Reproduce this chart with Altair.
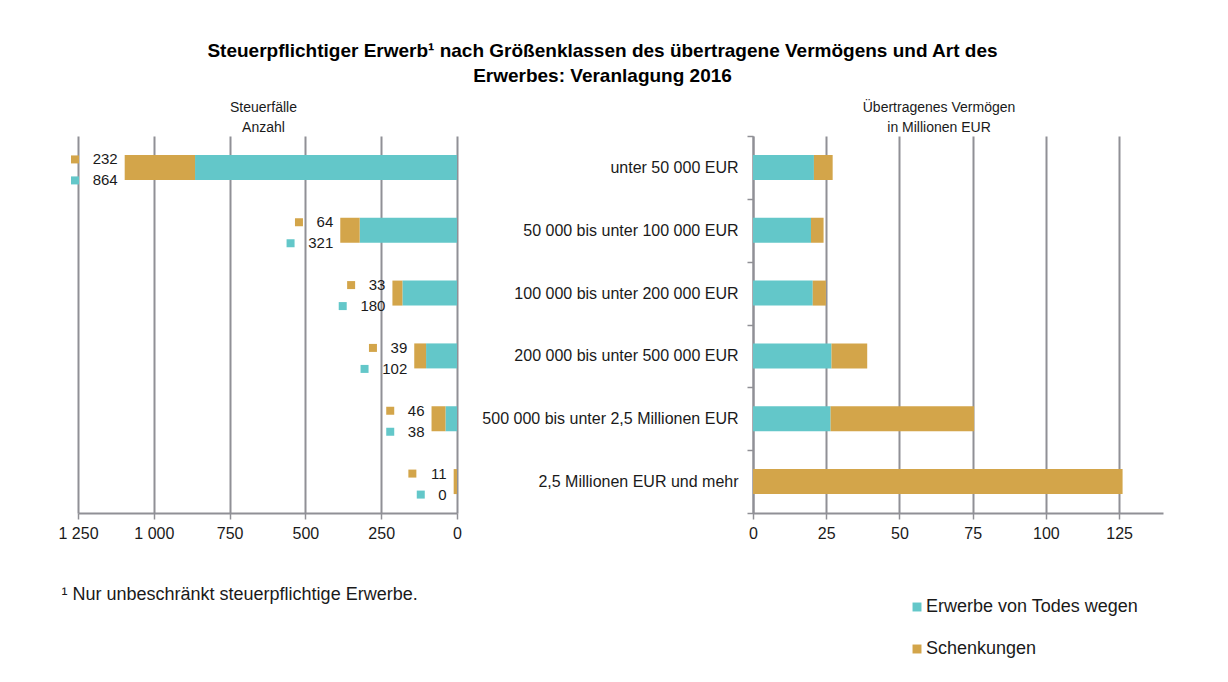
import altair as alt
import pandas as pd

categories = [
    "unter 50 000 EUR",
    "50 000 bis unter 100 000 EUR",
    "100 000 bis unter 200 000 EUR",
    "200 000 bis unter 500 000 EUR",
    "500 000 bis unter 2,5 Millionen EUR",
    "2,5 Millionen EUR und mehr",
]
series = ["Erwerbe von Todes wegen", "Schenkungen"]
faelle_todes = [864, 321, 180, 102, 38, 0]
faelle_schenk = [232, 64, 33, 39, 46, 11]
verm_todes = [20.8, 19.8, 20.4, 26.8, 26.5, 0.0]
verm_schenk = [6.4, 4.3, 4.5, 12.2, 49.0, 126.2]
colors = ["#63C7C9", "#D3A54A"]
left_ticks = [0, 250, 500, 750, 1000, 1250]
right_ticks = [0, 25, 50, 75, 100, 125]

FONT = "Liberation Sans"
GRID = "#909096"

rows = []
for i, c in enumerate(categories):
    rows.append(dict(cat=c, series=series[0], ord=0, faelle=faelle_todes[i], verm=verm_todes[i]))
    rows.append(dict(cat=c, series=series[1], ord=1, faelle=faelle_schenk[i], verm=verm_schenk[i]))
df = pd.DataFrame(rows)

lab_rows = []
for i, c in enumerate(categories):
    total = faelle_todes[i] + faelle_schenk[i]
    for s, v in ((series[1], faelle_schenk[i]), (series[0], faelle_todes[i])):
        txt = str(v)
        lab_rows.append(dict(cat=c, series=s, total=total, label=txt, ndig=len(txt)))
lab = pd.DataFrame(lab_rows)

color = alt.Color(
    "series:N",
    scale=alt.Scale(domain=series, range=colors),
    legend=alt.Legend(
        title=None, orient="none", legendX=830, legendY=462, direction="vertical",
        symbolType="square", symbolSize=80, symbolStrokeWidth=0, labelFontSize=18,
        labelFont=FONT, labelColor="#1a1a1a", rowPadding=24, labelOffset=0,
        labelLimit=400,
    ),
)

ycat = alt.Y("cat:N", sort=categories, scale=alt.Scale(paddingInner=0, paddingOuter=0))

H = 377
DY_S, DY_T = -8, 13
DIGIT_W = 8.4

# ---------- left chart ----------
lscale = alt.Scale(domain=[0, 1250], reverse=True, padding=0, zero=True)
left_x_axis = alt.Axis(
    values=left_ticks,
    labelExpr="replace(format(datum.value, ','), ',', ' ')",
    labelFlush=False,
    title="¹ Nur unbeschränkt steuerpflichtige Erwerbe.",
    titleAnchor="start", titleAlign="left", titleBaseline="top",
    titleX=-17, titleY=72, titleFontSize=18, titleFontWeight="normal",
    titleFont=FONT, titleColor="#1a1a1a",
)
lx = alt.X("faelle:Q", scale=lscale, stack="zero", axis=left_x_axis)

left_bars = alt.Chart(df).mark_bar(size=25).encode(
    x=lx,
    y=ycat.axis(None),
    color=color,
    order=alt.Order("ord:Q"),
)

layers = [left_bars]
for s, dy, col in ((series[1], DY_S, colors[1]), (series[0], DY_T, colors[0])):
    d = lab[lab.series == s]
    layers.append(
        alt.Chart(d).mark_text(align="right", baseline="middle", dx=-7, dy=dy,
                               fontSize=15, font=FONT, color="#1a1a1a").encode(
            x=alt.X("total:Q", scale=lscale), y=alt.Y("cat:N", sort=categories),
            text="label:N")
    )
    for n in sorted(d.ndig.unique()):
        dn = d[d.ndig == n]
        layers.append(
            alt.Chart(dn).mark_square(size=64, color=col, opacity=1, yOffset=dy,
                                      xOffset=-(7 + DIGIT_W * int(n) + 17.5)).encode(
                x=alt.X("total:Q", scale=lscale), y=alt.Y("cat:N", sort=categories))
        )

left = alt.layer(*layers).properties(
    width=379, height=H,
    title=alt.TitleParams(["Steuerfälle", "Anzahl"], fontSize=14, fontWeight="normal",
                          font=FONT, frame="group", lineHeight=20, offset=1, dx=-4,
                          color="#1a1a1a"),
)

# ---------- right chart ----------
right = alt.Chart(df).mark_bar(size=25).encode(
    x=alt.X("verm:Q", scale=alt.Scale(domain=[0, 140], padding=0), stack="zero",
            axis=alt.Axis(values=right_ticks, title=None, labelFlush=False)),
    y=ycat.axis(alt.Axis(title=None, labelFontSize=16, labelFont=FONT, labelColor="#1a1a1a",
                         tickBand="extent", ticks=True, tickSize=6, labelPadding=9,
                         domain=True, grid=False, labelLimit=400)),
    color=color,
    order=alt.Order("ord:Q"),
).properties(
    width=410, height=H,
    title=alt.TitleParams(["Übertragenes Vermögen", "in Millionen EUR"], fontSize=14,
                          fontWeight="normal", font=FONT, frame="group", dx=-19, dy=11,
                          lineHeight=20, offset=4, color="#1a1a1a"),
)

chart = alt.hconcat(left, right, spacing=19).properties(
    title=alt.TitleParams(
        ["Steuerpflichtiger Erwerb¹ nach Größenklassen des übertragene Vermögens und Art des",
         "Erwerbes: Veranlagung 2016"],
        fontSize=19, fontWeight="bold", font=FONT, anchor="middle", lineHeight=25,
        offset=15, dx=-8, color="#000000"),
    padding={"left": 49, "top": 34, "right": 5, "bottom": 5},
).configure_view(strokeWidth=0).configure_scale(continuousPadding=0).configure_axis(
    labelFont=FONT, labelFontSize=16, labelColor="#1a1a1a",
    gridColor=GRID, gridWidth=2, gridOpacity=1,
    domainColor=GRID, domainWidth=2, tickColor=GRID, tickWidth=1.5, tickSize=6,
    labelPadding=6,
).configure_axisX(grid=True)

chart.save("out.html", embed_options={"renderer": "svg", "actions": False})
